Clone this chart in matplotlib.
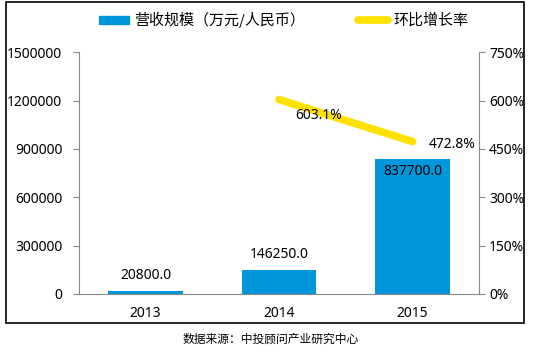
import numpy as np
import matplotlib.pyplot as plt
from matplotlib.patches import Rectangle, Patch
from matplotlib.lines import Line2D

plt.rcParams['font.family'] = ['Noto Sans', 'Noto Sans CJK SC', 'DejaVu Sans']

years = ['2013', '2014', '2015']
revenue = [20800.0, 146250.0, 837700.0]
growth_years = ['2014', '2015']
growth = [603.1, 472.8]

left_ticks = [0, 300000, 600000, 900000, 1200000, 1500000]
right_ticks = [0, 150, 300, 450, 600, 750]

blue = '#0096db'
yellow = '#ffe100'
grey = '#888888'
fs = 10

fig = plt.figure(figsize=(5.33, 3.55), dpi=100)
ax = fig.add_axes([0.148, 0.172, 0.751, 0.681])
ax2 = ax.twinx()

x = np.arange(len(years))
ax.bar(x, revenue, width=0.56, color=blue, zorder=2)
ax.set_xlim(-0.5, 2.5)
ax.set_ylim(0, 1500000)
ax.set_yticks(left_ticks)
ax.set_yticklabels([str(v) for v in left_ticks])
ax.set_xticks(x)
ax.set_xticklabels(years)

for i, v in enumerate(revenue):
    if v > 500000:
        ax.text(i, v - 30000, f'{v:.1f}', ha='center', va='top', fontsize=fs, zorder=5)
    else:
        ax.text(i, v + 50000, f'{v:.1f}', ha='center', va='bottom', fontsize=fs, zorder=5)

gx = [years.index(y) for y in growth_years]
ax2.plot(gx, growth, color=yellow, lw=5.5, solid_capstyle='round', zorder=3)
ax2.set_ylim(0, 750)
ax2.set_yticks(right_ticks)
ax2.set_yticklabels([f'{v}%' for v in right_ticks])
ax2.text(gx[0] + 0.3, growth[0] - 50, f'{growth[0]}%', ha='center', va='center', fontsize=fs)
ax2.text(gx[1] + 0.3, growth[1] - 8, f'{growth[1]}%', ha='center', va='center', fontsize=fs)

for a in (ax, ax2):
    a.spines['top'].set_visible(False)
    for s in ('left', 'right', 'bottom'):
        a.spines[s].set_color(grey)
ax.spines['right'].set_visible(False)
ax2.spines['left'].set_visible(False)
ax2.spines['bottom'].set_visible(False)

ax.tick_params(axis='y', direction='out', length=4, color=grey, pad=8, labelsize=fs)
ax.tick_params(axis='x', length=0, pad=9, labelsize=fs)
ax2.tick_params(axis='y', direction='out', length=4, color=grey, pad=3, labelsize=fs)

handles = [Patch(color=blue), Line2D([0], [0], color=yellow, lw=5.5, solid_capstyle='round')]
labels = ['营收规模（万元/人民币）', '环比增长率']
fig.legend(handles, labels, loc='upper center', bbox_to_anchor=(0.532, 1.005), ncol=2,
           frameon=False, handlelength=2.0, handleheight=0.45,
           handletextpad=0.3, columnspacing=3.6,
           prop={'family': ['Noto Sans CJK SC', 'DejaVu Sans'], 'size': 10.8})

fig.patches.append(Rectangle((0.011, 0.090), 0.972, 0.904, transform=fig.transFigure,
                             fill=False, edgecolor='black', lw=1.2, zorder=10))
fig.text(0.507, 0.046, '数据来源：中投顾问产业研究中心', ha='center', va='center', fontsize=8.5,
         family=['Noto Sans CJK SC', 'DejaVu Sans'], weight='medium')

fig.savefig('out.png', dpi=100)
